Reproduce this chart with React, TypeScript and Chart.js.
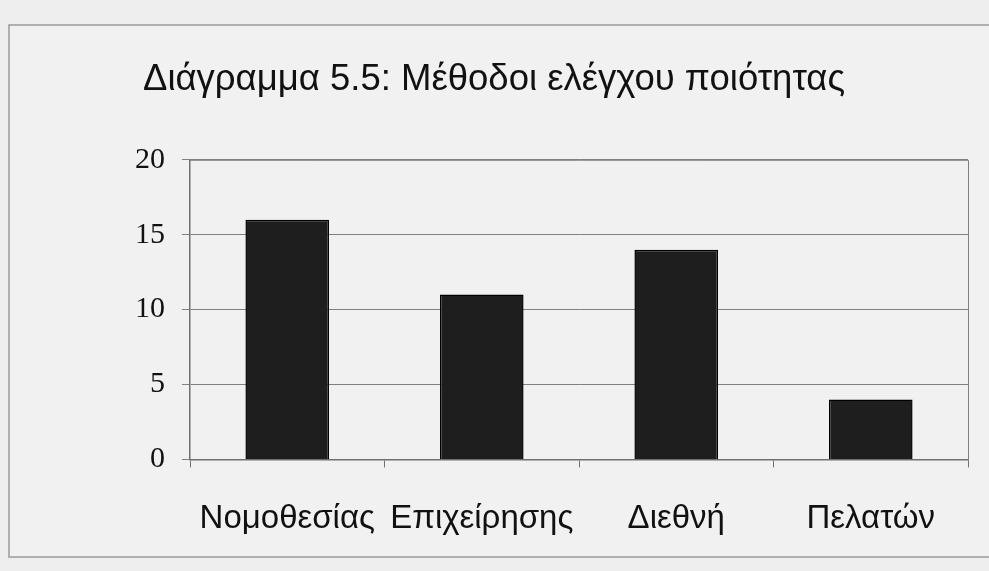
import React, { useEffect, useRef } from "react";
import { Chart, registerables } from "chart.js";

Chart.register(...registerables);

const categories = ["Νομοθεσίας", "Επιχείρησης", "Διεθνή", "Πελατών"];
const values = [16, 11, 14, 4];
const yTicks = [0, 5, 10, 15, 20];
const titleText = "Διάγραμμα 5.5: Μέθοδοι ελέγχου ποιότητας";

// Page background, outer frame and plot-area border
const framePlugin = {
  id: "frame",
  beforeDraw(chart: any) {
    const { ctx, width, height } = chart;
    ctx.save();
    ctx.fillStyle = "#eeeeee";
    ctx.fillRect(0, 0, width, height);
    ctx.fillStyle = "#f1f1f1";
    ctx.fillRect(9, 25, width, 532);
    ctx.strokeStyle = "#9a9a9a";
    ctx.lineWidth = 1.5;
    ctx.strokeRect(9, 25, width + 10, 532);
    ctx.restore();
  },
  afterDatasetsDraw(chart: any) {
    const { ctx, chartArea } = chart;
    ctx.save();
    ctx.strokeStyle = "#808080";
    ctx.lineWidth = 1;
    ctx.beginPath();
    ctx.moveTo(chartArea.left, chartArea.top + 0.5);
    ctx.lineTo(chartArea.right + 0.5, chartArea.top + 0.5);
    ctx.lineTo(chartArea.right + 0.5, chartArea.bottom);
    ctx.stroke();
    ctx.restore();
  },
};

export default function App() {
  const ref = useRef<HTMLCanvasElement>(null);

  useEffect(() => {
    document.body.style.margin = "0";
    const chart = new Chart(ref.current!, {
      type: "bar",
      data: {
        labels: categories,
        datasets: [
          {
            data: values,
            backgroundColor: "#1e1e1e",
            borderColor: "#000000",
            borderWidth: 1.5,
            barPercentage: 0.43,
            categoryPercentage: 1,
          },
        ],
      },
      options: {
        animation: false,
        responsive: false,
        maintainAspectRatio: false,
        layout: { padding: { top: 22, right: 21, bottom: 0, left: 20 } },
        plugins: {
          legend: { display: false },
          tooltip: { enabled: false },
          title: {
            display: true,
            text: titleText,
            color: "#111111",
            font: { family: "'Liberation Sans', Arial, sans-serif", size: 36.5, weight: "normal" },
            padding: { top: 36, bottom: 58 },
          },
        },
        scales: {
          x: {
            offset: true,
            grid: {
              offset: true,
              drawOnChartArea: false,
              drawTicks: true,
              tickLength: 8,
              color: "#707070",
            },
            border: { display: true, color: "#707070", width: 1.5 },
            ticks: {
              color: "#111111",
              padding: 32,
              font: { family: "'Liberation Sans', Arial, sans-serif", size: 33 },
            },
          },
          y: {
            min: 0,
            max: 20,
            afterBuildTicks(axis: any) {
              axis.ticks = yTicks.map((v) => ({ value: v }));
            },
            afterFit(axis: any) {
              axis.width = 170;
            },
            grid: {
              color: "#808080",
              lineWidth: 1,
              tickLength: 8,
            },
            border: { display: true, color: "#707070", width: 1.5 },
            ticks: {
              color: "#111111",
              padding: 17,
              font: { family: "'Liberation Serif', 'Times New Roman', serif", size: 30 },
            },
          },
        },
      },
      plugins: [framePlugin],
    });
    return () => chart.destroy();
  }, []);

  return (
    <div style={{ width: 989, height: 571 }}>
      <canvas ref={ref} width={989} height={571} style={{ display: "block" }} />
    </div>
  );
}
